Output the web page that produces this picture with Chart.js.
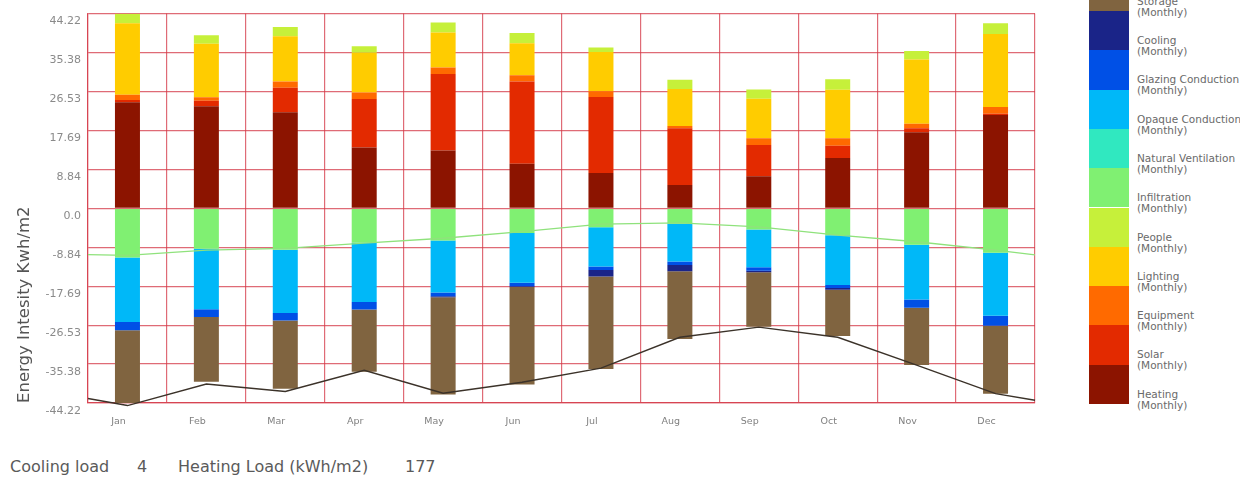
<!DOCTYPE html>
<html>
<head>
<meta charset="utf-8">
<script src="https://cdn.jsdelivr.net/npm/chart.js@4.4.1/dist/chart.umd.min.js"></script>
<style>
    body { margin: 0; background: #fff; width: 1240px; height: 482px; overflow: hidden; position: relative; font-family: "DejaVu Sans", Verdana, sans-serif; }
    #chartBox { position: absolute; left: 0; top: 0; width: 1060px; height: 440px; }
    .legendBlock { position: absolute; left: 1089px; width: 40px; }
    .legendText { position: absolute; left: 1137px; font-size: 10.5px; line-height: 11px; color: #6a6a6a; white-space: nowrap; }
    .summary { position: absolute; top: 457px; font-size: 16px; line-height: 19px; color: #5a5a5a; white-space: nowrap; }
</style>
</head>
<body>
<div id="chartBox"><canvas id="energyChart"></canvas></div>
<div id="legend"></div>
<span class="summary" style="left:10px">Cooling load</span>
<span class="summary" id="coolingTotal" style="left:137px"></span>
<span class="summary" style="left:178px">Heating Load (kWh/m2)</span>
<span class="summary" id="heatingTotal" style="left:405px"></span>

<script>
const months = ['Jan', 'Feb', 'Mar', 'Apr', 'May', 'Jun', 'Jul', 'Aug', 'Sep', 'Oct', 'Nov', 'Dec'];

// gains (kWh/m2, monthly)
const heating   = [24.1, 23.2, 21.8, 13.8, 13.1, 10.1, 8.0, 5.3, 7.3, 11.4, 17.3, 21.2];
const solar     = [0.5, 1.2, 5.6, 11.0, 17.4, 18.7, 17.3, 12.9, 7.1, 2.8, 0.9, 0.3];
const equipment = [1.2, 0.8, 1.4, 1.5, 1.5, 1.4, 1.3, 0.5, 1.5, 1.7, 1.0, 1.5];
const lighting  = [16.2, 12.2, 10.3, 9.0, 7.9, 7.3, 8.9, 8.4, 9.0, 11.0, 14.6, 16.6];
const people    = [2.2, 1.9, 2.1, 1.5, 2.3, 2.3, 1.0, 2.1, 2.1, 2.4, 1.9, 2.4];

// losses (kWh/m2, monthly)
const infiltration = [-11.2, -9.2, -9.4, -7.8, -7.3, -5.6, -4.3, -3.5, -4.8, -6.1, -8.3, -10.1];
const naturalVent  = [0, 0, 0, 0, 0, 0, 0, 0, 0, 0, 0, 0];
const opaque       = [-14.6, -13.7, -14.4, -13.5, -11.8, -11.3, -8.9, -8.6, -8.6, -11.3, -12.4, -14.3];
const glazing      = [-1.9, -1.8, -1.7, -1.7, -0.9, -0.8, -0.8, -0.8, -0.8, -0.7, -1.9, -2.3];
const cooling      = [0, 0, 0, 0, -0.2, -0.2, -1.5, -1.4, -0.3, -0.4, 0, 0];
const storage      = [-16.5, -14.7, -15.5, -14.1, -22.1, -22.1, -21.0, -15.4, -12.4, -10.5, -13.0, -15.4];

// trend lines, with the values at the left/right edge of the plot
const infiltrationLine = [-10.7, -9.5, -9.1, -7.9, -6.8, -5.3, -3.6, -3.3, -4.2, -6.1, -7.6, -9.5];
const infiltrationEnds = [-10.5, -10.6];
const totalLine = [-44.8, -39.9, -41.6, -36.8, -42.0, -39.5, -36.3, -29.3, -27.0, -29.3, -35.6, -42.1];
const totalEnds = [-43.2, -43.6];

const yTicks = [44.22, 35.38, 26.53, 17.69, 8.84, 0, -8.84, -17.69, -26.53, -35.38, -44.22];

const series = [
    { label: 'Heating', data: heating, color: '#8c1400' },
    { label: 'Solar', data: solar, color: '#e32a00' },
    { label: 'Equipment', data: equipment, color: '#ff6a00' },
    { label: 'Lighting', data: lighting, color: '#ffcc00' },
    { label: 'People', data: people, color: '#c6f03a' },
    { label: 'Infiltration', data: infiltration, color: '#80f072' },
    { label: 'Natural Ventilation', data: naturalVent, color: '#30e8c0' },
    { label: 'Opaque Conduction', data: opaque, color: '#00b8f8' },
    { label: 'Glazing Conduction', data: glazing, color: '#0050e6' },
    { label: 'Cooling', data: cooling, color: '#1a2488' },
    { label: 'Storage', data: storage, color: '#806440' }
];

function linePoints(values, ends) {
    let pts = [{ x: -0.5, y: ends[0] }];
    values.forEach(function(v, i) { pts.push({ x: i, y: v }); });
    pts.push({ x: values.length - 0.5, y: ends[1] });
    return pts;
}

function sum(arr) {
    return arr.reduce(function(a, b) { return a + b; }, 0);
}

let datasets = series.map(function(s) {
    return {
        type: 'bar',
        label: s.label,
        data: s.data,
        backgroundColor: s.color,
        borderWidth: 0,
        stack: 'loads',
        grouped: false,
        order: 1,
        categoryPercentage: 1,
        barPercentage: 0.4,
        maxBarThickness: 25
    };
});

// the two trend lines use their own (hidden) axes so they don't stack
datasets.push({
    type: 'line',
    label: 'Infiltration trend',
    data: linePoints(infiltrationLine, infiltrationEnds),
    xAxisID: 'xl',
    yAxisID: 'yl',
    borderColor: '#8fe27c',
    borderWidth: 1.3,
    pointRadius: 0,
    tension: 0,
    clip: false,
    order: 0
});

datasets.push({
    type: 'line',
    label: 'Total trend',
    data: linePoints(totalLine, totalEnds),
    xAxisID: 'xl',
    yAxisID: 'yl',
    borderColor: '#3b3229',
    borderWidth: 1.4,
    pointRadius: 0,
    tension: 0,
    clip: false,
    order: 0
});

const gridColor = 'rgba(212, 58, 72, 0.75)';

new Chart(document.getElementById('energyChart'), {
    data: { labels: months, datasets: datasets },
    options: {
        responsive: true,
        maintainAspectRatio: false,
        animation: false,
        layout: { padding: { left: 0, top: 10, right: 25, bottom: 0 } },
        plugins: {
            legend: { display: false },
            tooltip: { enabled: false }
        },
        scales: {
            x: {
                stacked: true,
                offset: true,
                z: 1,
                grid: { color: gridColor, lineWidth: 1.2, drawTicks: false, offset: true },
                border: { color: gridColor, width: 1.2 },
                ticks: {
                    color: '#808080',
                    font: { family: 'DejaVu Sans', size: 9.5 },
                    padding: 13,
                    labelOffset: -9,
                    maxRotation: 0
                },
                afterFit: function(scale) { scale.height = 37; }
            },
            xl: {
                type: 'linear',
                display: false,
                min: -0.5,
                max: 11.5
            },
            y: {
                stacked: true,
                min: -44.22,
                max: 44.22,
                z: 1,
                grid: { color: gridColor, lineWidth: 1.2, drawTicks: false },
                border: { color: gridColor, width: 1.2 },
                afterBuildTicks: function(scale) {
                    scale.ticks = yTicks.map(function(v) { return { value: v }; });
                },
                afterFit: function(scale) { scale.width = 88; },
                ticks: {
                    color: '#8a8a8a',
                    font: { family: 'DejaVu Sans', size: 11 },
                    padding: 7,
                    labelOffset: 8,
                    callback: function(v) { return v === 0 ? '0.0' : Number(v).toFixed(2); }
                },
                title: {
                    display: true,
                    text: 'Energy Intesity Kwh/m2',
                    align: 'start',
                    color: '#555',
                    font: { family: 'DejaVu Sans', size: 16.5 },
                    padding: { top: 15, bottom: 0 }
                }
            },
            yl: {
                display: false,
                min: -44.22,
                max: 44.22
            }
        }
    }
});

// legend column on the right, Storage on top
let legendDiv = document.getElementById('legend');
let blockH = 39.3;
let bottom = 404;
series.slice().reverse().forEach(function(s, i) {
    let top = bottom - (series.length - i) * blockH;
    let block = document.createElement('div');
    block.className = 'legendBlock';
    block.style.top = top + 'px';
    block.style.height = blockH + 'px';
    block.style.background = s.color;
    legendDiv.appendChild(block);

    let txt = document.createElement('div');
    txt.className = 'legendText';
    txt.style.top = (top + 24) + 'px';
    txt.innerHTML = s.label + '<br>(Monthly)';
    legendDiv.appendChild(txt);
});

document.getElementById('coolingTotal').textContent = Math.round(Math.abs(sum(cooling)));
document.getElementById('heatingTotal').textContent = Math.round(sum(heating));
</script>
</body>
</html>
